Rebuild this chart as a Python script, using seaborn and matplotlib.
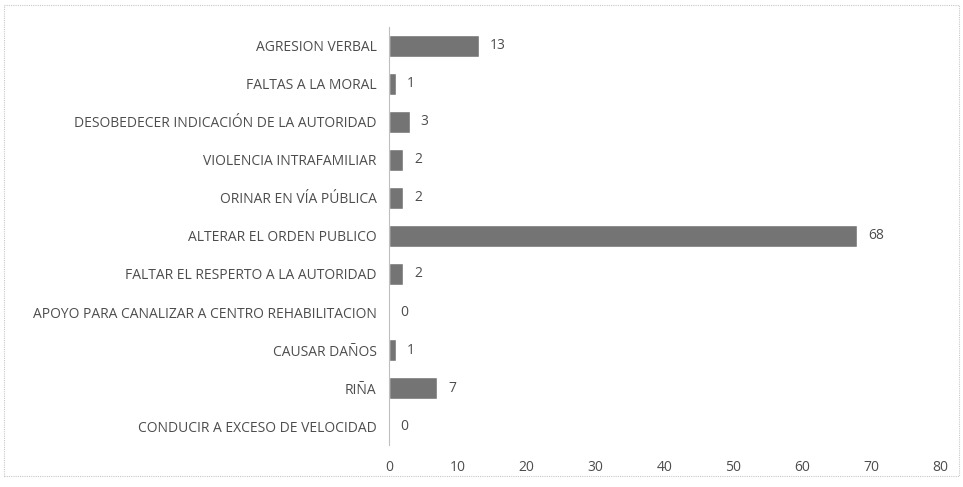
import matplotlib
matplotlib.use('Agg')
import matplotlib.pyplot as plt
import seaborn as sb
import pandas as pd
from matplotlib.patches import Rectangle

# DATA
categorias = ['AGRESION VERBAL', 'FALTAS A LA MORAL',
              'DESOBEDECER INDICACIÓN DE LA AUTORIDAD',
              'VIOLENCIA INTRAFAMILIAR', 'ORINAR EN VÍA PÚBLICA',
              'ALTERAR EL ORDEN PUBLICO',
              'FALTAR EL RESPERTO A LA AUTORIDAD',
              'APOYO PARA CANALIZAR A CENTRO REHABILITACION',
              'CAUSAR DAÑOS', 'RIÑA', 'CONDUCIR A EXCESO DE VELOCIDAD']
valores = [13, 1, 3, 2, 2, 68, 2, 0, 1, 7, 0]
xticks = [0, 10, 20, 30, 40, 50, 60, 70, 80]

df = pd.DataFrame({'cat': categorias, 'n': valores})

sb.set_style('white')
plt.rcParams['font.family'] = ['Open Sans', 'DejaVu Sans']
txt = '#4d4d4d'

fig = plt.figure(figsize=(9.63, 4.87), dpi=100)
ax = fig.add_axes([0.404, 0.086, 0.572, 0.859])

sb.barplot(data=df, x='n', y='cat', orient='h', color='#747474',
           saturation=1, width=0.57, ax=ax)

# value labels next to each bar
for c in ax.containers:
    ax.bar_label(c, labels=[str(v) for v in valores], padding=8,
                 fontsize=10, color=txt)

ax.set_xlim(0, 80)
ax.set_xticks(xticks)
ax.set_xlabel('')
ax.set_ylabel('')
ax.tick_params(axis='both', length=0, labelsize=10, colors=txt)
ax.tick_params(axis='x', pad=11)
ax.tick_params(axis='y', pad=9)

for s in ['top', 'right', 'bottom']:
    ax.spines[s].set_visible(False)
ax.spines['left'].set_color('#bfbfbf')
ax.spines['left'].set_linewidth(0.8)

# outer chart border
fig.patches.append(Rectangle((0.004, 0.022), 0.992, 0.968,
                             transform=fig.transFigure, fill=False,
                             edgecolor='#c8c8c8', linewidth=0.8,
                             linestyle=(0, (1, 1))))

fig.savefig('out.png', dpi=100)
